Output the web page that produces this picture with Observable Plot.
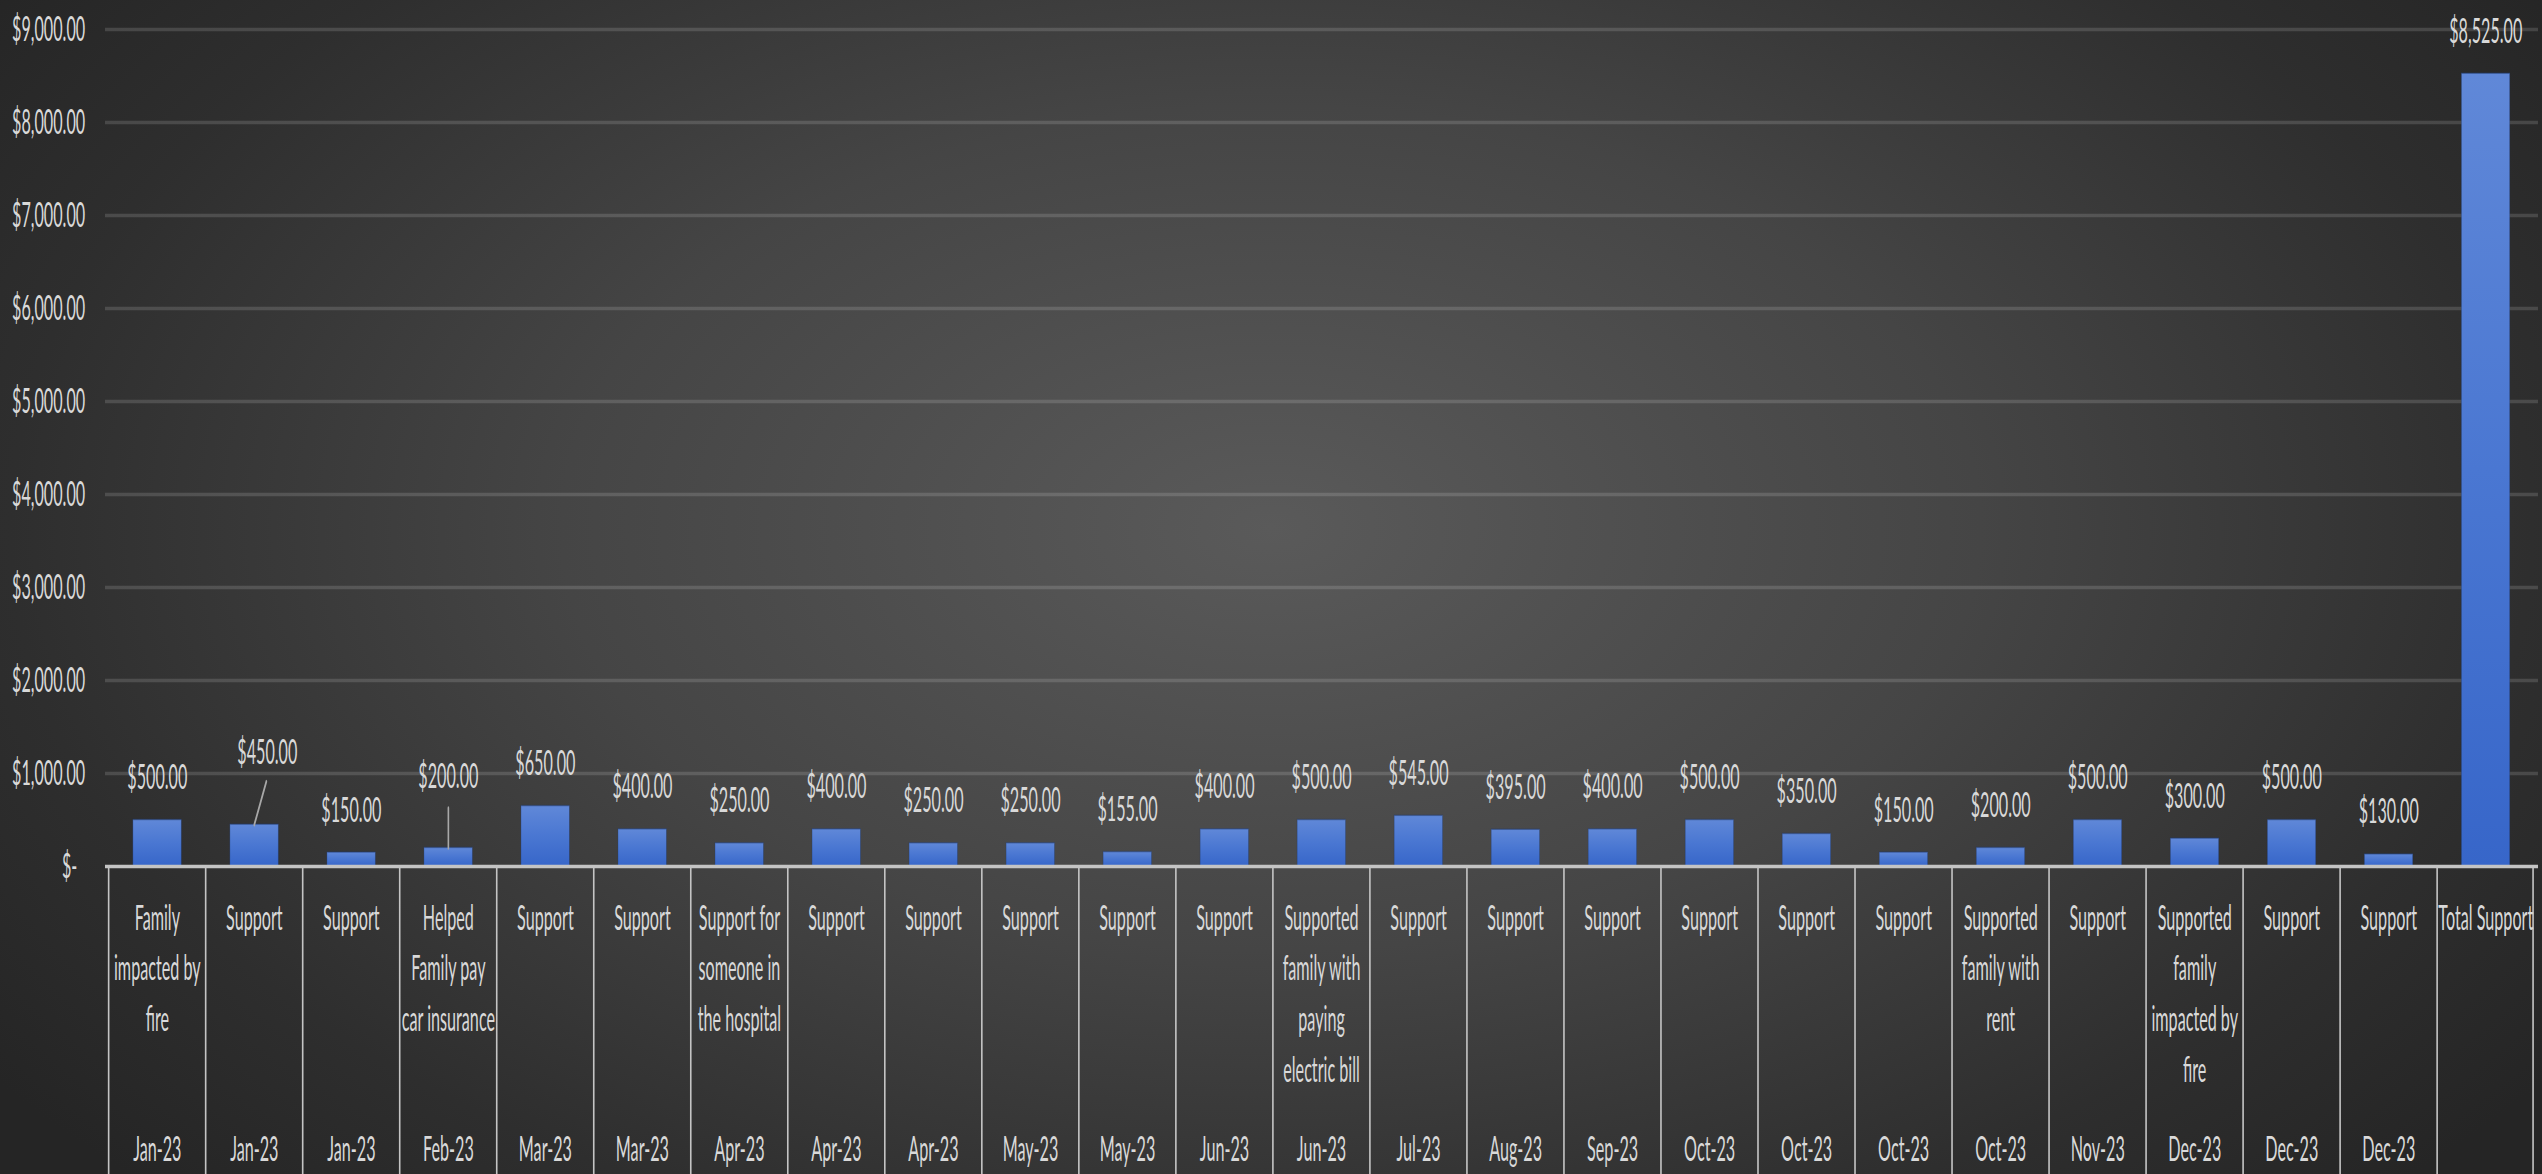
<!DOCTYPE html>
<html>
<head>
<meta charset="utf-8">
<script src="https://cdn.jsdelivr.net/npm/d3@7"></script>
<script src="https://cdn.jsdelivr.net/npm/@observablehq/plot@0.6"></script>
<style>
  html, body { margin: 0; padding: 0; background: #262626; }
  #chart {
    width: 2542px; height: 1174px; overflow: hidden;
    background: radial-gradient(ellipse 62% 80% at 50% 45%, #5a5a5a 0%, #454545 45%, #2e2e2e 80%, #252525 100%);
  }
</style>
</head>
<body>
<div id="chart"></div>
<script>
// ---- data ----
const descriptions = [
  "Family\nimpacted by\nfire", "Support", "Support", "Helped\nFamily pay\ncar insurance",
  "Support", "Support", "Support for\nsomeone in\nthe hospital", "Support", "Support",
  "Support", "Support", "Support", "Supported\nfamily with\npaying\nelectric bill",
  "Support", "Support", "Support", "Support", "Support", "Support",
  "Supported\nfamily with\nrent", "Support", "Supported\nfamily\nimpacted by\nfire",
  "Support", "Support", "Total Support"
];
const dates = [
  "Jan-23", "Jan-23", "Jan-23", "Feb-23", "Mar-23", "Mar-23", "Apr-23", "Apr-23", "Apr-23",
  "May-23", "May-23", "Jun-23", "Jun-23", "Jul-23", "Aug-23", "Sep-23", "Oct-23", "Oct-23",
  "Oct-23", "Oct-23", "Nov-23", "Dec-23", "Dec-23", "Dec-23", ""
];
const amounts = [
  500, 450, 150, 200, 650, 400, 250, 400, 250, 250, 155, 400, 500,
  545, 395, 400, 500, 350, 150, 200, 500, 300, 500, 130, 8525
];
const yTicks = [0, 1000, 2000, 3000, 4000, 5000, 6000, 7000, 8000, 9000];

// ---- layout (chart is drawn wide, then squeezed horizontally like the original) ----
const k = 0.462;
const OW = 2542, OH = 1174;
const W = OW / k;
const mL = 105 / k, mR = 4 / k, mT = 29, mB = OH - 866;
const frameH = OH - mT - mB;
const idx = amounts.map((_, i) => i);
const bw = (W - mL - mR) / amounts.length;
const rows = idx.map(i => ({i, v: amounts[i], desc: descriptions[i], date: dates[i]}));
const money = d3.format("$,.2f");
const font = "Lato, 'Open Sans', 'Liberation Sans', sans-serif";
const txt = "#d9d9d9";
const fs = 35;

const nudged = new Map([[1, {dx: 13 / k, dy: -61}], [3, {dx: 0, dy: -60}]]);
const leaderShape = {draw(ctx, l) { ctx.moveTo(0, 0); ctx.lineTo(0, -l); }};

const defs = () => {
  const ns = "http://www.w3.org/2000/svg";
  const d = document.createElementNS(ns, "defs");
  d.innerHTML = `<linearGradient id="barGrad" x1="0" y1="0" x2="0" y2="1">
      <stop offset="0" stop-color="#6088d8"/>
      <stop offset="0.5" stop-color="#4a77d2"/>
      <stop offset="1" stop-color="#3766c9"/>
    </linearGradient>`;
  return d;
};

const chart = Plot.plot({
  width: W, height: OH,
  marginLeft: mL, marginRight: mR, marginTop: mT, marginBottom: mB,
  style: {background: "transparent", fontFamily: font, fontSize: fs + "px", color: txt},
  x: {type: "band", domain: idx, padding: 0, axis: null},
  y: {domain: [0, 9000], axis: null},
  marks: [
    defs,
    Plot.ruleY(yTicks.filter(t => t > 0), {stroke: "#ffffff", strokeOpacity: 0.14, strokeWidth: 3.5}),
    Plot.axisY(yTicks.filter(t => t > 0), {label: null, tickSize: 0, tickPadding: 41 / (k / 0.49), tickFormat: money, fontSize: fs, fill: txt}),
    Plot.axisY([0], {label: null, tickSize: 0, tickPadding: 57 / (k / 0.49), tickFormat: () => "$-", fontSize: fs, fill: txt}),
    Plot.barY(rows, {x: "i", y: "v", fill: "url(#barGrad)", stroke: "#1f3a70", strokeOpacity: 0.45, strokeWidth: 1.5, insetLeft: bw * 0.25, insetRight: bw * 0.25}),
    Plot.ruleY([0], {stroke: "#c4c4c4", strokeWidth: 3.5}),
    Plot.ruleX(idx, {x: d => d, dx: -bw / 2, insetTop: frameH, insetBottom: -mB, stroke: "#c4c4c4", strokeWidth: 3.5}),
    Plot.ruleX([idx[idx.length - 1]], {x: d => d, dx: bw / 2 - 3, insetTop: frameH, insetBottom: -mB, stroke: "#c4c4c4", strokeWidth: 3.5}),
    // data labels
    Plot.text(rows.filter(d => !nudged.has(d.i)), {x: "i", y: "v", text: d => money(d.v), lineAnchor: "bottom", dy: -31, fill: txt, fontSize: fs}),
    ...[...nudged].map(([i, o]) =>
      Plot.text(rows.filter(d => d.i === i), {x: "i", y: "v", text: d => money(d.v), lineAnchor: "bottom", dx: o.dx, dy: o.dy, fill: txt, fontSize: fs})),
    // leader lines for displaced labels
    Plot.vector(rows.filter(d => d.i === 1), {x: "i", y: "v", anchor: "start", length: Math.hypot(12 / k, 43), rotate: Math.atan2(12 / k, 43) * 180 / Math.PI, shape: leaderShape, stroke: "#a8a8a8", strokeWidth: 3.5}),
    Plot.vector(rows.filter(d => d.i === 3), {x: "i", y: "v", anchor: "start", length: 40, rotate: 0, shape: leaderShape, stroke: "#a8a8a8", strokeWidth: 3.5}),
    // multi-level category axis
    Plot.text(rows, {x: "i", frameAnchor: "bottom", text: "desc", lineAnchor: "top", lineHeight: 1.45, dy: 27, fill: txt, fontSize: fs}),
    Plot.text(rows, {x: "i", frameAnchor: "bottom", text: "date", lineAnchor: "top", dy: 270, fill: txt, fontSize: fs})
  ]
});

chart.setAttribute("width", OW);
chart.setAttribute("height", OH);
chart.setAttribute("preserveAspectRatio", "none");
chart.style.width = OW + "px";
chart.style.height = OH + "px";
chart.style.maxWidth = "none";
document.getElementById("chart").appendChild(chart);
</script>
</body>
</html>
